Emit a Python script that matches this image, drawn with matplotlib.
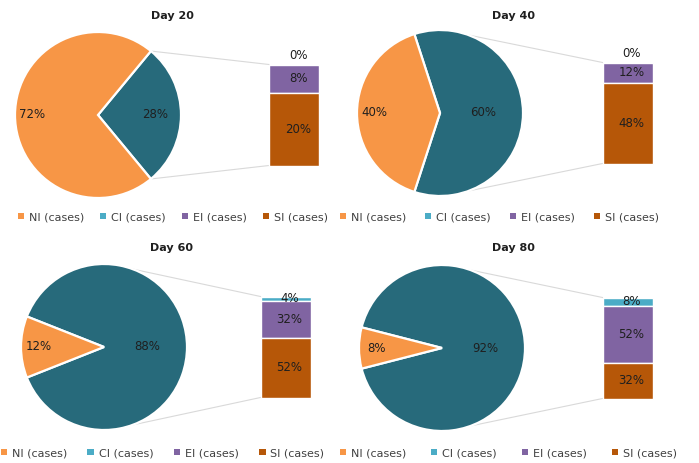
import numpy as np
import matplotlib
matplotlib.use('Agg')
import matplotlib.pyplot as plt
from matplotlib.patches import Patch

# ---- data (percent of all cases) ----
days = ['Day 20', 'Day 40', 'Day 60', 'Day 80']
ni = [72, 40, 12, 8]
ci = [0, 0, 4, 8]
ei = [8, 12, 32, 52]
si = [20, 48, 52, 32]
legend_labels = ['NI (cases)', 'CI (cases)', 'EI (cases)', 'SI (cases)']

# ---- colours ----
C_NI = '#F79646'
C_OTHER = '#276A7B'
C_CI = '#4BACC6'
C_EI = '#8064A2'
C_SI = '#B65708'
TXT = '#1F1F1F'

W, H = 699, 463
fig = plt.figure(figsize=(W / 100, H / 100), dpi=100)
ax = fig.add_axes([0, 0, 1, 1])

# panel layout in pixels (y measured from top)
pie_center = [(98, 115), (440, 113), (104, 347), (442, 348)]
radius = 83
bar_x = [294, 627.5, 285.5, 627.5]
bar_w = 50
bar_h = 101
title_pos = [(172, 16), (513, 16), (172, 248), (513, 248)]
legend_box = [(18, 217, 310), (340, 217, 319), (0.5, 453, 324), (340, 453, 337)]

for i in range(4):
    cx, cy = pie_center[i]
    other = ci[i] + ei[i] + si[i]
    half = 180.0 * other / 100.0

    # pie: "other" slice centred on the right, NI on the left
    wedges, _ = ax.pie([other, ni[i]], colors=[C_OTHER, C_NI], startangle=-half,
                       center=(cx, cy), radius=radius,
                       wedgeprops=dict(edgecolor='white', linewidth=1.6))
    d_ni = 0.79
    d_other = 0.69 if other < 50 else 0.52
    ax.text(cx + d_other * radius, cy, f'{other}%', ha='center', va='center',
            fontsize=8.5, color=TXT)
    ax.text(cx - d_ni * radius, cy, f'{ni[i]}%', ha='center', va='center',
            fontsize=8.5, color=TXT)

    # stacked bar: CI on top, EI, SI at the bottom
    bx = bar_x[i]
    top = cy - bar_h / 2
    y = top
    for val, col in zip([ci[i], ei[i], si[i]], [C_CI, C_EI, C_SI]):
        h = val / other * bar_h
        ax.bar(bx, h, width=bar_w, bottom=y, color=col, edgecolor='white',
               linewidth=1.0)
        ty = y + h / 2 if val > 0 else top - 9
        ax.text(bx + 4, ty, f'{val}%', ha='center', va='center', fontsize=8.5,
                color=TXT)
        y += h

    # connector lines
    a = np.radians(min(half, 70))
    x0 = cx + radius * np.cos(a)
    ax.plot([x0, bx - bar_w / 2], [cy - radius * np.sin(a), top],
            color='#D9D9D9', lw=0.8, zorder=0)
    ax.plot([x0, bx - bar_w / 2], [cy + radius * np.sin(a), top + bar_h],
            color='#D9D9D9', lw=0.8, zorder=0)

    tx, ty = title_pos[i]
    ax.text(tx, ty, days[i], ha='center', va='center', fontsize=8,
            fontweight='bold', color=TXT)

    lx, ly, lw_ = legend_box[i]
    handles = [Patch(facecolor=c, edgecolor='none') for c in [C_NI, C_CI, C_EI, C_SI]]
    fig.legend(handles, legend_labels, ncol=4, mode='expand', loc='center',
               bbox_to_anchor=(lx / W, 1 - (ly + 6) / H, lw_ / W, 12 / H),
               frameon=False, fontsize=8, handlelength=0.55, handleheight=0.55,
               handletextpad=0.45, borderpad=0, borderaxespad=0,
               labelcolor='#404040')

ax.set_aspect('auto')
ax.set_xlim(0, W)
ax.set_ylim(H, 0)
ax.axis('off')

fig.savefig('out.png', dpi=100, facecolor='white')
